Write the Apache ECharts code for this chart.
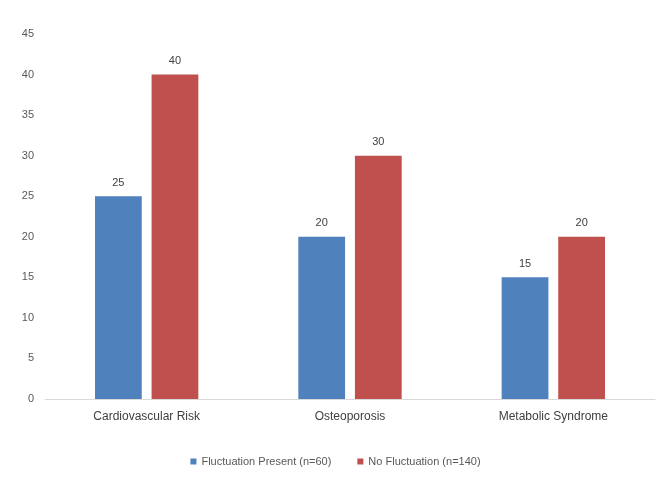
<!DOCTYPE html>
<html>
	<head>
		<meta charset="utf-8">
		<title></title>
		<style>
			html,
			body {
				margin: 0;
				height: 100%;
				background: #fff;
			}
		</style>
	</head>
	<body>
		<div id="main" style="width: 671px;height:479px;"></div>
		<script src="https://cdn.jsdelivr.net/npm/echarts@6/dist/echarts.min.js"></script>
		<script>
			var categories = ['Cardiovascular Risk', 'Osteoporosis', 'Metabolic Syndrome'];
			var presentValues = [25, 20, 15];
			var noFluctValues = [40, 30, 20];
			var seriesNames = ['Fluctuation Present (n=60)', 'No Fluctuation (n=140)'];

			var labelFont = 'Liberation Sans, sans-serif';
			var myChart = echarts.init(document.getElementById('main'));
			var option = {
				animation: false,
				grid: {
					left: 45,
					right: 16,
					top: 34,
					bottom: 80
				},
				legend: {
					bottom: 7,
					itemWidth: 6,
					itemHeight: 6,
					itemGap: 26,
					icon: 'rect',
					textStyle: {
						color: '#595959',
						fontSize: 11,
						fontFamily: labelFont
					},
					data: seriesNames
				},
				xAxis: [{
					type: 'category',
					data: categories,
					axisTick: { show: false },
					axisLine: { lineStyle: { color: '#d9d9d9' } },
					axisLabel: {
						color: '#404040',
						fontSize: 12,
						fontFamily: labelFont,
						margin: 12
					}
				}],
				yAxis: [{
					type: 'value',
					min: 0,
					max: 45,
					interval: 5,
					splitLine: { show: false },
					axisLine: { show: false },
					axisTick: { show: false },
					axisLabel: {
						color: '#595959',
						fontSize: 11,
						fontFamily: labelFont,
						margin: 11
					}
				}],
				series: [{
					name: seriesNames[0],
					type: 'bar',
					data: presentValues,
					barWidth: '23%',
					barGap: '21%',
					itemStyle: { color: '#4f81bd' },
					label: {
						show: true,
						position: 'top',
						distance: 8,
						color: '#404040',
						fontSize: 11,
						fontFamily: labelFont
					}
				}, {
					name: seriesNames[1],
					type: 'bar',
					data: noFluctValues,
					barWidth: '23%',
					itemStyle: { color: '#c0504d' },
					label: {
						show: true,
						position: 'top',
						distance: 8,
						color: '#404040',
						fontSize: 11,
						fontFamily: labelFont
					}
				}]
			};
			myChart.setOption(option);
		</script>
	</body>
</html>
